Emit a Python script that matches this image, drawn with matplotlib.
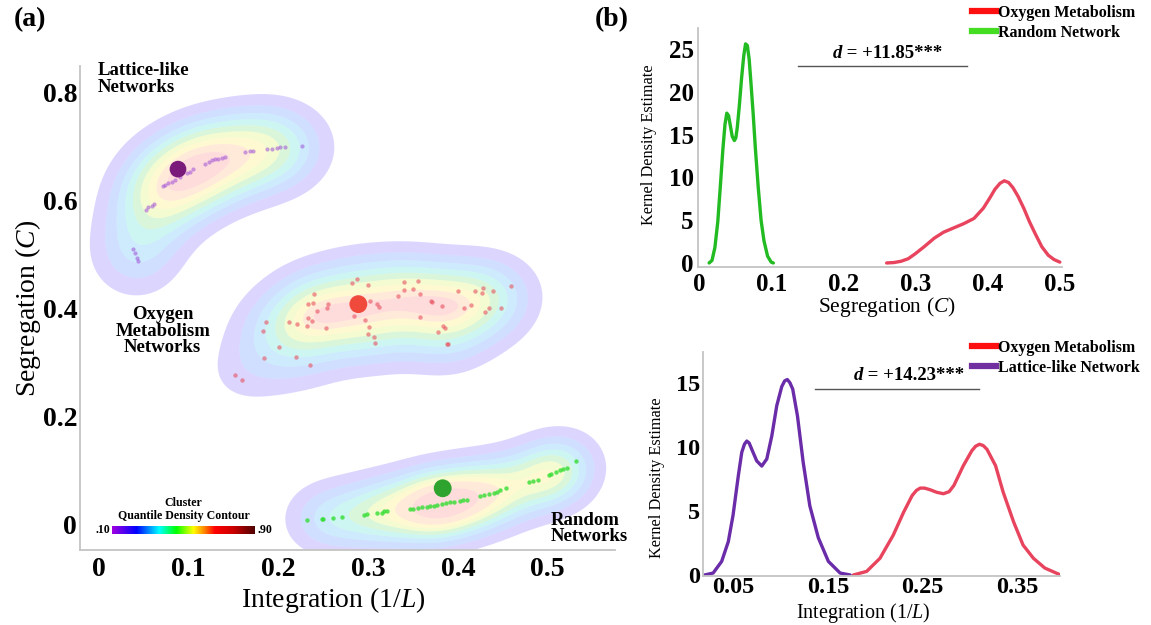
import numpy as np
import matplotlib
matplotlib.use("Agg")
import matplotlib.pyplot as plt
from matplotlib.colors import LinearSegmentedColormap
from matplotlib.lines import Line2D

plt.rcParams['font.family'] = ['Liberation Serif', 'DejaVu Serif']
plt.rcParams['mathtext.fontset'] = 'custom'
plt.rcParams['mathtext.rm'] = 'Liberation Serif'
plt.rcParams['mathtext.it'] = 'Liberation Serif:italic'
plt.rcParams['mathtext.bf'] = 'Liberation Serif:bold'

# ---------------- data: panel (a) scatter ----------------
lattice_x = [0.226, 0.207, 0.202, 0.198, 0.193, 0.187, 0.172, 0.168, 0.163, 0.140, 0.137,
             0.133, 0.129, 0.126, 0.122, 0.118, 0.105, 0.101, 0.098, 0.090, 0.085, 0.081,
             0.077, 0.074, 0.071, 0.061, 0.059, 0.055, 0.052, 0.038, 0.040, 0.042, 0.043]
lattice_y = [0.702, 0.700, 0.700, 0.698, 0.697, 0.697, 0.693, 0.692, 0.691, 0.681, 0.679,
             0.678, 0.678, 0.675, 0.672, 0.669, 0.660, 0.654, 0.651, 0.645, 0.639, 0.636,
             0.633, 0.630, 0.627, 0.594, 0.591, 0.588, 0.584, 0.512, 0.503, 0.494, 0.488]

oxygen_x = [0.287, 0.282, 0.300, 0.240, 0.233, 0.239, 0.255, 0.254, 0.243, 0.302, 0.310,
            0.312, 0.284, 0.296, 0.301, 0.300, 0.306, 0.308, 0.233, 0.237, 0.232, 0.221,
            0.212, 0.253, 0.186, 0.183, 0.201, 0.184, 0.219, 0.235, 0.152, 0.159, 0.340,
            0.355, 0.340, 0.350, 0.333, 0.358, 0.370, 0.371, 0.382, 0.358, 0.383, 0.386,
            0.378, 0.388, 0.389, 0.400, 0.419, 0.428, 0.427, 0.439, 0.415, 0.407, 0.435,
            0.430, 0.448, 0.459]
oxygen_y = [0.456, 0.448, 0.444, 0.427, 0.410, 0.412, 0.409, 0.402, 0.396, 0.414, 0.409,
            0.404, 0.387, 0.380, 0.367, 0.354, 0.349, 0.337, 0.383, 0.377, 0.368, 0.373,
            0.375, 0.364, 0.375, 0.360, 0.329, 0.309, 0.312, 0.297, 0.278, 0.269, 0.450,
            0.451, 0.436, 0.437, 0.424, 0.427, 0.415, 0.413, 0.405, 0.385, 0.369, 0.365,
            0.358, 0.336, 0.335, 0.434, 0.434, 0.438, 0.429, 0.434, 0.407, 0.402, 0.401,
            0.395, 0.402, 0.443]

random_x = [0.232, 0.248, 0.250, 0.261, 0.271, 0.295, 0.299, 0.310, 0.315, 0.318, 0.321,
            0.346, 0.350, 0.355, 0.360, 0.365, 0.369, 0.373, 0.377, 0.382, 0.387, 0.391,
            0.396, 0.402, 0.406, 0.410, 0.424, 0.429, 0.435, 0.440, 0.443, 0.447, 0.454,
            0.479, 0.484, 0.489, 0.501, 0.504, 0.509, 0.514, 0.517, 0.521, 0.532]
random_y = [0.009, 0.012, 0.012, 0.013, 0.014, 0.019, 0.020, 0.022, 0.023, 0.025, 0.026,
            0.029, 0.030, 0.031, 0.033, 0.034, 0.035, 0.036, 0.037, 0.039, 0.040, 0.042,
            0.043, 0.044, 0.046, 0.047, 0.054, 0.055, 0.057, 0.059, 0.062, 0.064, 0.068,
            0.080, 0.081, 0.083, 0.093, 0.094, 0.098, 0.101, 0.103, 0.106, 0.119]

centroid_names = ["Lattice-like", "Oxygen Metabolism", "Random"]
centroid_x = [0.088, 0.289, 0.383]
centroid_y = [0.659, 0.409, 0.068]

# ---------------- data: panel (b) KDE curves ----------------
seg_random_x = [0.014, 0.018, 0.022, 0.026, 0.030, 0.033, 0.036, 0.0385, 0.041, 0.0435, 0.046,
                0.049, 0.051, 0.053, 0.056, 0.059, 0.062, 0.0645, 0.067, 0.0695, 0.072, 0.075,
                0.078, 0.082, 0.086, 0.090, 0.095, 0.100, 0.103]
seg_random_y = [0.0, 0.3, 1.8, 4.8, 9.5, 13.2, 16.2, 17.5, 17.2, 16.0, 14.8, 14.3, 14.6, 15.8,
                18.5, 21.6, 24.2, 25.6, 25.4, 23.8, 21.0, 17.5, 13.5, 8.9, 5.0, 2.6, 0.8, 0.1, 0.0]
seg_oxygen_x = [0.260, 0.270, 0.280, 0.290, 0.300, 0.312, 0.326, 0.339, 0.353, 0.367, 0.381,
                0.394, 0.403, 0.410, 0.417, 0.423, 0.429, 0.435, 0.442, 0.450, 0.458, 0.466,
                0.475, 0.484, 0.492, 0.500]
seg_oxygen_y = [0.0, 0.05, 0.2, 0.5, 1.1, 1.9, 2.9, 3.6, 4.1, 4.6, 5.2, 6.4, 7.6, 8.6, 9.3,
                9.6, 9.4, 8.8, 7.8, 6.4, 4.8, 3.4, 1.9, 0.9, 0.4, 0.1]

int_lattice_x = [0.020, 0.029, 0.038, 0.045, 0.050, 0.0556, 0.0592, 0.062, 0.0645, 0.067, 0.0698,
                 0.075, 0.0803, 0.0856, 0.0909, 0.0961, 0.1014, 0.1045, 0.1073, 0.110, 0.113,
                 0.118, 0.124, 0.131, 0.140, 0.1506, 0.163, 0.1736]
int_lattice_y = [0.0, 0.15, 1.06, 2.6, 4.66, 7.76, 9.57, 10.2, 10.45, 10.3, 9.8, 8.9, 8.5, 9.05,
                 10.85, 13.2, 14.7, 15.15, 15.25, 15.0, 14.5, 12.4, 8.8, 5.4, 2.9, 1.06, 0.15, 0.0]
int_oxygen_x = [0.177, 0.191, 0.205, 0.219, 0.230, 0.239, 0.2435, 0.2475, 0.252, 0.258, 0.265,
                0.272, 0.278, 0.283, 0.293, 0.302, 0.306, 0.310, 0.314, 0.318, 0.327, 0.335,
                0.346, 0.356, 0.367, 0.379, 0.395]
int_oxygen_y = [0.0, 0.28, 1.3, 3.1, 4.9, 6.2, 6.6, 6.78, 6.78, 6.65, 6.45, 6.34, 6.5, 6.98,
                8.53, 9.7, 10.05, 10.2, 10.1, 9.8, 8.53, 6.47, 4.15, 2.34, 1.3, 0.54, 0.02]

seg_label = "d = +11.85***"
int_label = "d = +14.23***"

a_xticks = [0, 0.1, 0.2, 0.3, 0.4, 0.5]
a_xticklabels = ["0", "0.1", "0.2", "0.3", "0.4", "0.5"]
a_yticks = [0, 0.2, 0.4, 0.6, 0.8]
a_yticklabels = ["0", "0.2", "0.4", "0.6", "0.8"]
b1_xticks = [0, 0.1, 0.2, 0.3, 0.4, 0.5]
b1_xticklabels = ["0", "0.1", "0.2", "0.3", "0.4", "0.5"]
b1_yticks = [0, 5, 10, 15, 20, 25]
b2_xticks = [0.05, 0.15, 0.25, 0.35]
b2_xticklabels = ["0.05", "0.15", "0.25", "0.35"]
b2_yticks = [0, 5, 10, 15]
quantile_levels = [0.1, 0.2, 0.3, 0.4, 0.5, 0.6, 0.7, 0.8, 0.9]

# ---------------- styles ----------------
W, H = 1151, 625
fig = plt.figure(figsize=(W / 100, H / 100), dpi=100)
SPINE = '#c4c4c4'
rainbow = LinearSegmentedColormap.from_list(
    'qrain', [(0.0, '#a000e0'), (0.17, '#0000ff'), (0.33, '#00ffff'), (0.45, '#00ff00'),
              (0.57, '#ffff00'), (0.65, '#ff8000'), (0.72, '#ff0000'), (0.85, '#cc0000'),
              (1.0, '#500000')])
band_colors = ['#7b61ff', '#4a84ff', '#3fb4f5', '#40dcd0', '#70e070', '#d8f050',
               '#ffe850', '#ffb070', '#ff7878']
BAND_ALPHA = 0.26


def fig_rect(l, t, r, b):
    return [l / W, 1 - b / H, (r - l) / W, (b - t) / H]


def style_axes(ax, tick_fs, xpad, ypad):
    for s in ['top', 'right']:
        ax.spines[s].set_visible(False)
    for s in ['left', 'bottom']:
        ax.spines[s].set_color(SPINE)
        ax.spines[s].set_linewidth(1.3)
    ax.tick_params(length=0, labelsize=tick_fs)
    ax.tick_params(axis='x', pad=xpad)
    ax.tick_params(axis='y', pad=ypad)
    for lab in ax.get_xticklabels() + ax.get_yticklabels():
        lab.set_fontweight('bold')


def kde2d(xs, ys, gx, gy, bw):
    xs = np.asarray(xs)
    ys = np.asarray(ys)
    dx = (gx.ravel()[:, None] - xs[None, :]) / bw[0]
    dy = (gy.ravel()[:, None] - ys[None, :]) / bw[1]
    d = np.exp(-0.5 * (dx ** 2 + dy ** 2)).sum(axis=1)
    return d.reshape(gx.shape)


def quantile_contour(ax, xs, ys, bw):
    gx, gy = np.meshgrid(np.linspace(-0.1, 0.7, 320), np.linspace(-0.2, 1.0, 360))
    dens = kde2d(xs, ys, gx, gy, bw)
    flat = np.sort(dens.ravel())[::-1]
    cum = np.cumsum(flat) / flat.sum()
    thr = [flat[np.searchsorted(cum, 1 - q)] for q in quantile_levels]
    levels = thr + [dens.max() * 1.001]
    ax.contourf(gx, gy, dens, levels=levels, colors=band_colors, alpha=BAND_ALPHA,
                antialiased=True, zorder=1)


# ---------------- panel (a) ----------------
axa = fig.add_axes(fig_rect(80, 66, 615, 550))
quantile_contour(axa, lattice_x, lattice_y, (0.036, 0.056))
quantile_contour(axa, oxygen_x, oxygen_y, (0.036, 0.052))
quantile_contour(axa, random_x, random_y, (0.030, 0.048))

axa.scatter(lattice_x, lattice_y, s=9, color='#a050d8', alpha=0.55, lw=0, zorder=3)
axa.scatter(oxygen_x, oxygen_y, s=10, color='#e85060', alpha=0.6, lw=0, zorder=3)
axa.scatter(random_x, random_y, s=10, color='#33dd33', alpha=0.8, lw=0, zorder=3)
centroid_colors = ['#7a1b7c', '#f04a3c', '#2ea42e']
centroid_sizes = [145, 165, 165]
axa.scatter(centroid_x, centroid_y, s=centroid_sizes, c=centroid_colors, lw=0, zorder=4)

axa.set_xlim(-0.0212, 0.575)
axa.set_ylim(-0.0463, 0.85)
axa.set_xticks(a_xticks)
axa.set_xticklabels(a_xticklabels)
axa.set_yticks(a_yticks)
axa.set_yticklabels(a_yticklabels)
style_axes(axa, 20, 5, 2)
axa.set_xlabel("Integration (1/$\\it{L}$)", fontsize=20)
axa.set_ylabel("Segregation ($\\it{C}$)", fontsize=20)
axa.xaxis.set_label_coords(0.473, -0.103)
axa.yaxis.set_label_coords(-0.097, 0.5)
axa.xaxis.label.set_va('center')
axa.yaxis.label.set_va('center')

lab_kw = dict(fontsize=13.5, fontweight='bold', linespacing=0.95, zorder=5, clip_on=False)
axa.text(-0.001, 0.826, "Lattice-like\nNetworks", ha='left', va='center', **lab_kw)
axa.text(0.071, 0.359, "Oxygen\nMetabolism\nNetworks", ha='center', va='center', **lab_kw)
axa.text(0.503, -0.006, "Random\nNetworks", ha='left', va='center', **lab_kw)

# colour bar legend
cax = fig.add_axes(fig_rect(112, 526, 255, 534))
cax.imshow(np.linspace(0, 1, 256)[None, :], aspect='auto', cmap=rainbow)
cax.set_axis_off()
fig.text(183.5 / W, 1 - 503 / H, "Cluster", ha='center', va='center', fontsize=8.6,
         fontweight='bold')
fig.text(183.5 / W, 1 - 516 / H, "Quantile Density Contour", ha='center', va='center',
         fontsize=8.6, fontweight='bold')
fig.text(110 / W, 1 - 530 / H, ".10", ha='right', va='center', fontsize=8.6, fontweight='bold')
fig.text(257 / W, 1 - 530 / H, ".90", ha='left', va='center', fontsize=8.6, fontweight='bold')

# ---------------- panel (b) upper ----------------
RED = '#e8445e'
GREEN = '#22bb22'
PURPLE = '#6a2ca8'
axb1 = fig.add_axes(fig_rect(698, 28, 1062, 267))
axb1.plot(seg_random_x, seg_random_y, color=GREEN, lw=2.4, solid_capstyle='round')
axb1.plot(seg_oxygen_x, seg_oxygen_y, color=RED, lw=2.4, solid_capstyle='round')
axb1.set_xlim(-0.0014, 0.503)
axb1.set_ylim(-0.47, 27.45)
axb1.set_xticks(b1_xticks)
axb1.set_xticklabels(b1_xticklabels)
axb1.set_yticks(b1_yticks)
style_axes(axb1, 18, 4.5, 3)
axb1.set_xlabel("Segregation ($\\it{C}$)", fontsize=15.5)
axb1.set_ylabel("Kernel Density Estimate", fontsize=11.7)
axb1.xaxis.set_label_coords(0.519, -0.167)
axb1.yaxis.set_label_coords(-0.135, 0.51)
axb1.xaxis.label.set_va('center')
axb1.yaxis.label.set_va('center')
axb1.plot([0.137, 0.3715], [23.0, 23.0], color='#555555', lw=1.0)
axb1.text(0.198, 23.9, "d", ha='right', va='baseline', fontsize=13.5, fontweight='bold',
          fontstyle='italic')
axb1.text(0.198, 23.9, seg_label[1:], ha='left', va='baseline', fontsize=13.5,
          fontweight='bold')
h1 = [Line2D([], [], color='#ff1010', lw=4.5), Line2D([], [], color='#44dd22', lw=4.5)]
axb1.legend(h1, ["Oxygen Metabolism", "Random Network"], loc='upper left',
            bbox_to_anchor=(972 / W, 1 - 5 / H), bbox_transform=fig.transFigure,
            frameon=False, borderpad=0, borderaxespad=0, handlelength=1.5,
            handletextpad=0.1, labelspacing=0.25, prop=dict(size=11.5, weight='bold'))

# ---------------- panel (b) lower ----------------
B2_TOP, B2_BOT = 352, 576
axb2 = fig.add_axes(fig_rect(703, B2_TOP, 1060, B2_BOT))
axb2.plot(int_lattice_x, int_lattice_y, color=PURPLE, lw=2.4, solid_capstyle='round')
axb2.plot(int_oxygen_x, int_oxygen_y, color=RED, lw=2.4, solid_capstyle='round')
axb2.set_xlim(0.0183, 0.395)
axb2.set_ylim(-0.08, 17.4)
axb2.set_xticks(b2_xticks)
axb2.set_xticklabels(b2_xticklabels)
axb2.set_yticks(b2_yticks)
style_axes(axb2, 17.5, 0.5, 2)
axb2.set_xlabel("Integration (1/$\\it{L}$)", fontsize=14.5)
axb2.set_ylabel("Kernel Density Estimate", fontsize=11.7)
axb2.xaxis.set_label_coords(0.448, (B2_BOT - 625) / (B2_BOT - B2_TOP))
axb2.yaxis.set_label_coords(-0.129, 0.44)
axb2.xaxis.label.set_va('bottom')
axb2.yaxis.label.set_va('center')
axb2.plot([0.136, 0.310], [14.5, 14.5], color='#555555', lw=1.0)
axb2.text(0.187, 15.2, "d", ha='right', va='baseline', fontsize=13.5, fontweight='bold',
          fontstyle='italic')
axb2.text(0.187, 15.2, int_label[1:], ha='left', va='baseline', fontsize=13.5,
          fontweight='bold')
h2 = [Line2D([], [], color='#ff1010', lw=4.5), Line2D([], [], color='#7030a0', lw=4.5)]
axb2.legend(h2, ["Oxygen Metabolism", "Lattice-like Network"], loc='upper left',
            bbox_to_anchor=(972 / W, 1 - 340 / H), bbox_transform=fig.transFigure,
            frameon=False, borderpad=0, borderaxespad=0, handlelength=1.5,
            handletextpad=0.1, labelspacing=0.25, prop=dict(size=11.5, weight='bold'))

# panel letters
fig.text(30 / W, 1 - 20 / H, "(a)", ha='center', va='center', fontsize=20, fontweight='bold')
fig.text(612 / W, 1 - 20 / H, "(b)", ha='center', va='center', fontsize=20, fontweight='bold')

fig.savefig("out.png", dpi=100)
